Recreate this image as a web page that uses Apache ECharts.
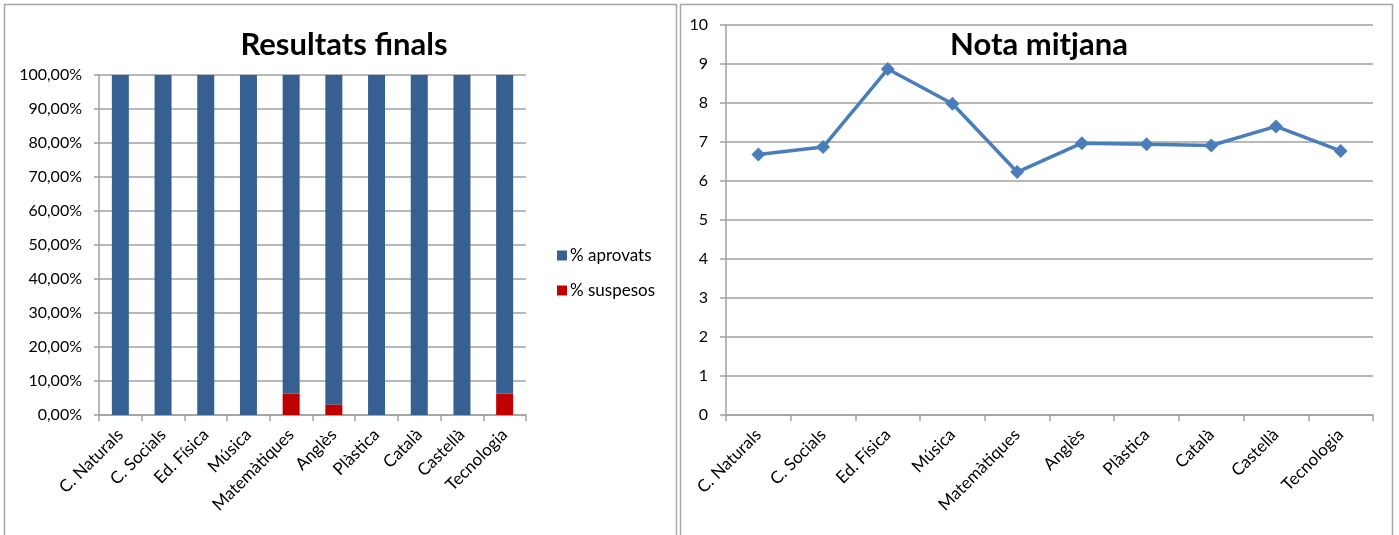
<!DOCTYPE html>
<html>
<head>
<meta charset="utf-8">
<script src="https://cdn.jsdelivr.net/npm/echarts@6/dist/echarts.min.js"></script>
<style>
html,body{margin:0;padding:0;background:#fff;}
#main{width:1399px;height:535px;}
</style>
</head>
<body>
<div id="main"></div>
<script>
const categories = ['C. Naturals','C. Socials','Ed. Física','Música','Matemàtiques','Anglès','Plàstica','Català','Castellà','Tecnologia'];
const suspesos = [0, 0, 0, 0, 6.25, 3.125, 0, 0, 0, 6.25];
const aprovats = [100, 100, 100, 100, 93.75, 96.875, 100, 100, 100, 93.75];
const notaMitjana = [6.68, 6.87, 8.87, 7.98, 6.23, 6.97, 6.94, 6.91, 7.40, 6.77];

const FONT = 'Lato, "Liberation Sans", sans-serif';
const gridColor = '#A0A0A0';
const chart = echarts.init(document.getElementById('main'), null, {renderer:'canvas'});

const xLabel = {rotate:45, fontSize:17, color:'#000', fontFamily:FONT, margin:17, interval:0};
const yLabelStyle = {fontSize:16, color:'#000', fontFamily:FONT};

chart.setOption({
  animation:false,
  textStyle:{fontFamily:FONT},
  graphic:[
    {type:'rect', shape:{x:4.5,y:4.5,width:672,height:540}, style:{fill:'none', stroke:'#A6A6A6', lineWidth:1.5}},
    {type:'rect', shape:{x:680.5,y:4.5,width:712,height:540}, style:{fill:'none', stroke:'#A6A6A6', lineWidth:1.5}}
  ],
  title:[
    {text:'Resultats finals', left:339, top:24, textAlign:'center',
     textStyle:{fontSize:31, fontWeight:'bold', color:'#000', fontFamily:FONT}},
    {text:'Nota mitjana', left:1034, top:24, textAlign:'center',
     textStyle:{fontSize:31, fontWeight:'bold', color:'#000', fontFamily:FONT}}
  ],
  legend:{
    data:['% aprovats','% suspesos'],
    orient:'vertical', left:552, top:242, itemGap:18,
    icon:'rect', itemWidth:10, itemHeight:10,
    textStyle:{fontSize:17, color:'#000', fontFamily:FONT, padding:[0,0,0,-2]}
  },
  grid:[
    {left:99, top:75, width:427, height:340},
    {left:726, top:25, width:647, height:390}
  ],
  xAxis:[
    {type:'category', gridIndex:0, data:categories,
     axisLine:{lineStyle:{color:gridColor, width:1.5}},
     axisTick:{show:true, length:6, inside:false, lineStyle:{color:gridColor, width:1.5}},
     axisLabel:xLabel},
    {type:'category', gridIndex:1, data:categories, boundaryGap:true,
     axisLine:{lineStyle:{color:gridColor, width:1.5}},
     axisTick:{show:true, length:6, inside:false, lineStyle:{color:gridColor, width:1.5}},
     axisLabel:xLabel}
  ],
  yAxis:[
    {type:'value', gridIndex:0, min:0, max:100, interval:10,
     axisLine:{show:true, lineStyle:{color:gridColor, width:1.5}},
     axisTick:{show:true, length:5, lineStyle:{color:gridColor, width:1.5}},
     splitLine:{lineStyle:{color:gridColor, width:1.5}},
     axisLabel:Object.assign({margin:17, formatter:v => v.toFixed(2).replace('.',',') + '%'}, yLabelStyle)},
    {type:'value', gridIndex:1, min:0, max:10, interval:1,
     axisLine:{show:true, lineStyle:{color:gridColor, width:1.5}},
     axisTick:{show:true, length:6, lineStyle:{color:gridColor, width:1.5}},
     splitLine:{lineStyle:{color:gridColor, width:1.5}},
     axisLabel:Object.assign({margin:18}, yLabelStyle)}
  ],
  series:[
    {name:'% suspesos', type:'bar', stack:'s', xAxisIndex:0, yAxisIndex:0, data:suspesos,
     barWidth:17, itemStyle:{color:'#C00000'}},
    {name:'% aprovats', type:'bar', stack:'s', xAxisIndex:0, yAxisIndex:0, data:aprovats,
     barWidth:17, itemStyle:{color:'#376092'}},
    {name:'Nota mitjana', type:'line', xAxisIndex:1, yAxisIndex:1, data:notaMitjana,
     symbol:'diamond', symbolSize:14,
     lineStyle:{color:'#4A7EBB', width:3.5},
     itemStyle:{color:'#4A7EBB'}}
  ]
});
</script>
</body>
</html>
